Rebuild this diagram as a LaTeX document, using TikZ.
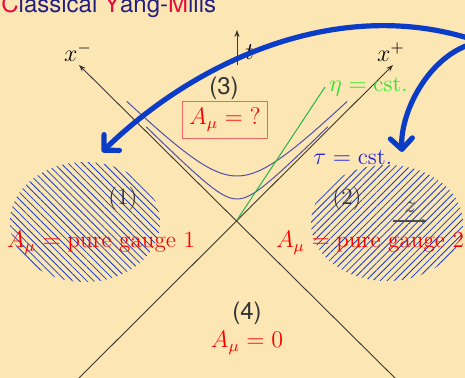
\documentclass[tikz,border=0pt]{standalone}
\usepackage{tikz}
\usetikzlibrary{positioning,arrows.meta,patterns.meta}
\usepackage{fontspec}
\usepackage{amsmath}
\setsansfont{TeX Gyre Heros}
\definecolor{slidebg}{RGB}{252,230,180}
\definecolor{titlered}{RGB}{230,10,60}
\definecolor{titleblue}{RGB}{35,30,130}
\definecolor{axisgray}{RGB}{60,55,50}
\definecolor{hypblue}{RGB}{80,80,170}
\definecolor{etagreen}{RGB}{40,180,80}
\definecolor{etatext}{RGB}{40,230,40}
\definecolor{taublue}{RGB}{30,30,230}
\definecolor{hatchblue}{RGB}{20,60,200}
\definecolor{bigblue}{RGB}{10,60,200}
\definecolor{boxred}{RGB}{240,100,100}
\newcommand{\hl}[1]{\textcolor{titlered}{#1}}

\begin{document}
\begin{tikzpicture}[x=0.5pt,y=0.5pt,>=stealth,
		font=\fontsize{11.6}{13}\selectfont,
		axis/.style={draw=axisgray,line width=.45pt,-{Stealth[length=3.5pt,width=2.6pt]}},
		hyp/.style={draw=hypblue,line width=.5pt},
		hatchL/.style={pattern={Lines[angle=-45,distance=2.5pt,line width=.4pt]},pattern color=hatchblue},
		hatchR/.style={pattern={Lines[angle=45,distance=2.5pt,line width=.4pt]},pattern color=hatchblue},
		regnum/.style={text=black!80},
		sans/.style={regnum,font=\sffamily\fontsize{12}{14}\selectfont},
		gauge/.style={text=red},
		bigarr/.style={draw=bigblue,line width=2.6pt,line cap=round,line join=round,
			-{Straight Barb[length=5.5pt,width=11pt,round]}}]
				\useasboundingbox (-237,-158) rectangle (228,220);
				\fill[slidebg] (-237,-158) rectangle (228,220);
				
				\node[anchor=base west,inner sep=0pt,text=titleblue,
					font=\sffamily\fontsize{12}{14}\selectfont] (title) at (-236,207)
					{\hl{C}lassical \hl{Y}ang-\hl{M}ills};
				
				% regions (1) and (2)
				\path[hatchL] (-152,-2) ellipse [x radius=75,y radius=60];
				\path[hatchR] (150,-3) ellipse [x radius=76,y radius=58];
				
				% light cone
				\coordinate (O) at (0,0);
				\coordinate (xp) at (156,155);
				\coordinate (xm) at (-158,155);
				\coordinate (sw) at (-164,-164);
				\coordinate (se) at (164,-164);
				\draw[axis] (sw) -- (xp);
				\draw[axis] (se) -- (xm);
				\node (xplab) at (154,168) {$x^+$};
				\node (xmlab) at (-159,168) {$x^-$};
				
				\coordinate (t0) at (0,155);
				\coordinate (t1) at (0,190);
				\draw[axis] (t0) -- (t1);
				\node[anchor=west,inner sep=2pt] (tlab) at (4,168) {$t$};
				
				\foreach \r/\s in {44/1.65,21/2.17}{
					\draw[hyp] plot[domain=-\s:\s,samples=60] ({\r*sinh(\x)},{\r*cosh(\x)});
				}
				\coordinate (etaend) at (88,133);
				\draw[etagreen,line width=.5pt] (O) -- (etaend);
				\node[anchor=west,inner sep=2pt,text=etatext] (etalab) at (etaend) {$\eta=\text{cst.}$};
				\node[anchor=west,inner sep=0pt,text=taublue] (taulab) at (76,63) {$\tau=\text{cst.}$};
				
				\node[sans] (reg3) at (-13,132) {(3)};
				\node[draw=boxred,line width=.6pt,text=red] (A3) at (-12,100) {$A_\mu={?}$};
				\node[regnum] (reg1) at (-114,21) {(1)};
				\node[regnum] (reg2) at (110,21) {(2)};
				\node[gauge] (A1) at (-136,-23) {$A_\mu=\text{pure gauge 1}$};
				\node[gauge] (A2) at (133,-23) {$A_\mu=\text{pure gauge 2}$};
				\node[sans] (reg4) at (10,-93) {(4)};
				\node[gauge] (A4) at (10,-123) {$A_\mu=0$};
				
				\coordinate (z0) at (156,-1);
				\coordinate (z1) at (190,-1);
				\draw[black!70,line width=.6pt,-{Stealth[length=2.5pt,width=2pt]}] (z0) -- (z1);
				\node[text=black!75] (zlab) at (173,13) {$z$};
				
				% the two big arrows
				\coordinate (src) at (243,178);
				\coordinate (tip1) at (-135,68);
				\coordinate (tip2) at (165,68);
				\draw[bigarr] (src) .. controls (110,225) and (-35,165) .. (tip1);
				\draw[bigarr] (src) .. controls (195,170) and (163,110) .. (tip2);
\end{tikzpicture}
\end{document}
